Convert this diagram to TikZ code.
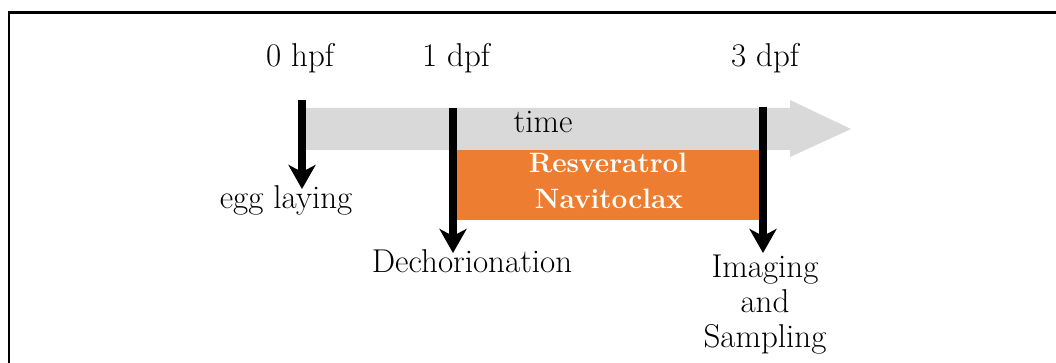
\documentclass[tikz,border=0pt]{standalone}
\usetikzlibrary{arrows.meta}
\definecolor{timegrey}{HTML}{D9D9D9}
\definecolor{treatorange}{HTML}{ED7D31}
\tikzset{
  lbl/.style={font=\fontsize{33}{35}\selectfont, anchor=base, inner sep=0pt},
  blbl/.style={lbl, font=\fontsize{28}{35}\selectfont\bfseries, text=white},
  tick/.style={line width=7.5pt, -{Stealth[length=24pt,width=27pt,inset=7pt]}},
}
\begin{document}
\begin{tikzpicture}[x=1pt,y=-1pt]
\useasboundingbox (0,0) rectangle (1056,363);
\fill[white] (0,0) rectangle (1056,363);
% frame
\draw[line width=2.2pt] (9,363) -- (9,12.5) -- (1056,12.5);
% time arrow
\fill[timegrey] (305,108) -- (790,108) -- (790,100) -- (851,129) -- (790,157) -- (790,150) -- (305,150) -- cycle;
% treatment box
\node[fill=treatorange, minimum width=306pt, minimum height=70pt, inner sep=0pt, anchor=north west] (box) at (454,150) {};
\node[blbl] (res) at (608,173) {Resveratrol};
\node[blbl] (nav) at (609,209) {Navitoclax};
\node[lbl] (time) at (543,133) {time};
% time points
\node[lbl] (t0) at (300,67) {0 hpf};
\node[lbl] (t1) at (456,67) {1 dpf};
\node[lbl] (t3) at (765,67) {3 dpf};
% events
\node[lbl] (egg) at (286,208) {egg laying};
\node[lbl] (dech) at (472,272) {Dechorionation};
\node[lbl, align=center, anchor=base] (img) at (765,347) {Imaging\\and\\Sampling};
% arrow coordinates
\coordinate (a0s) at (302,100);
\coordinate (a0e) at (302,189);
\coordinate (a1s) at (453,108);
\coordinate (a1e) at (453,253);
\coordinate (a3s) at (763,107);
\coordinate (a3e) at (763,253);
\draw[tick] (a0s) -- (a0e);
\draw[tick] (a1s) -- (a1e);
\draw[tick] (a3s) -- (a3e);
\end{tikzpicture}
\end{document}
